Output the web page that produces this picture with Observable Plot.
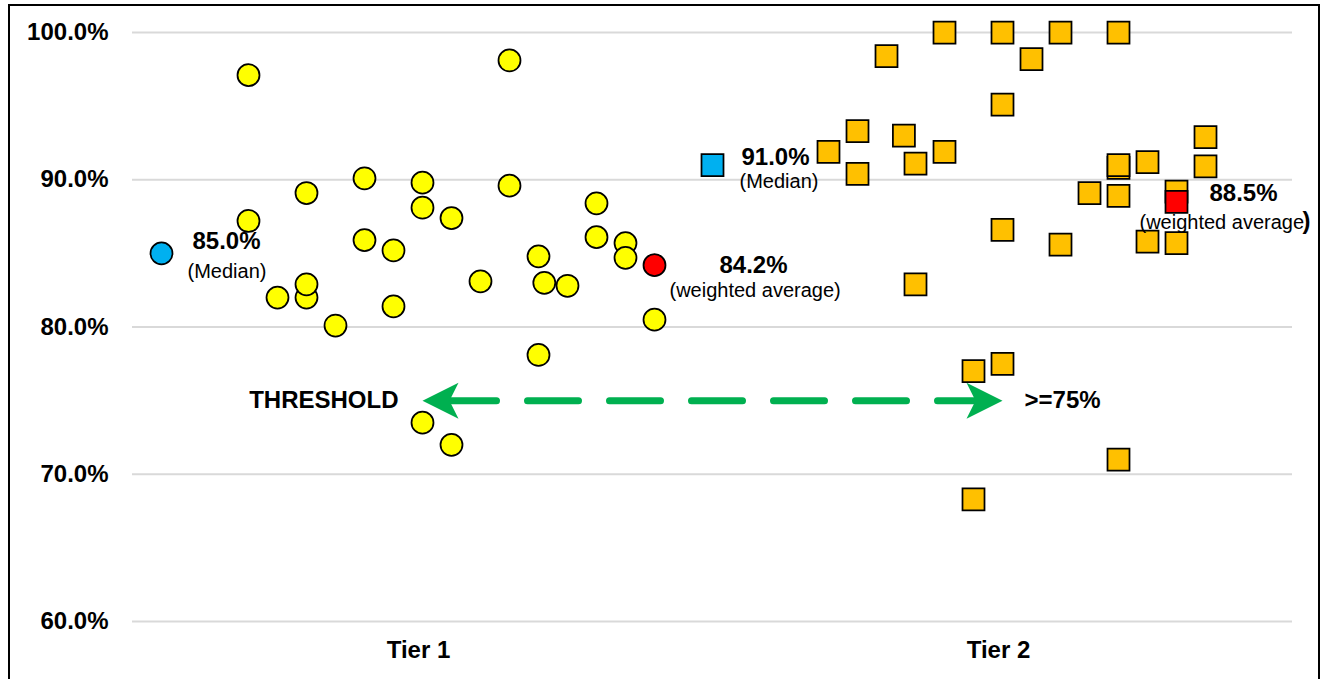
<!DOCTYPE html>
<html>
<head>
<meta charset="utf-8">
<script src="https://cdn.jsdelivr.net/npm/d3@7"></script>
<script src="https://cdn.jsdelivr.net/npm/@observablehq/plot@0.6"></script>
<style>
  body { margin: 0; background: #fff; }
  #chart { position: relative; width: 1322px; height: 679px; overflow: hidden; background: #fff; }
  #chart svg { position: absolute; left: 0; top: 0; }
  #chart .border { position: absolute; left: 8px; top: 4px; width: 1308px; height: 720px; border: 2px solid #000; pointer-events: none; }
</style>
</head>
<body>
<div id="chart"><div class="border"></div></div>
<script>
// Category positions along the x scale and their labels
const tierPositions = [10, 30];
const tierLabels = ["Tier 1", "Tier 2"];
const yTicks = [60, 70, 80, 90, 100];

// Tier 1 individual results (percent)
const tier1Pos = [4, 4, 5, 6, 6, 6, 7, 8, 8, 9, 9, 10, 10, 10, 11, 11, 12, 13, 13, 14, 14, 14.2, 15, 16, 16, 17, 17, 18];
const tier1Val = [97.1, 87.2, 82.0, 89.1, 82.0, 82.9, 80.1, 90.1, 85.9, 85.2, 81.4, 89.8, 88.1, 73.5, 87.4, 72.0, 83.1, 98.1, 89.6, 84.8, 78.1, 83.0, 82.8, 88.4, 86.1, 85.7, 84.7, 80.5];

// Tier 2 individual results (percent)
const tier2Pos = [24, 25, 25, 26, 26.6, 27, 27, 28, 28, 29, 29, 30, 30, 30, 30, 31, 32, 32, 33, 34, 34, 34, 34, 34, 35, 35, 36, 36, 37, 37];
const tier2Val = [91.9, 93.3, 90.4, 98.4, 93.0, 91.1, 82.9, 100.0, 91.9, 77.0, 68.3, 100.0, 95.1, 86.6, 77.5, 98.2, 100.0, 85.6, 89.1, 100.0, 90.8, 91.0, 88.9, 71.0, 91.2, 85.8, 89.2, 85.7, 92.9, 90.9];

// Summary statistics per tier
const summaryKind = ["Median", "weighted average", "Median", "weighted average"];
const summaryPos = [1, 18, 20, 36];
const summaryVal = [85.0, 84.2, 91.0, 88.5];

// Threshold band
const threshold = 75;
const thresholdSpan = [10, 30];
const thresholdLabel = "THRESHOLD";

const pct = v => `${v.toFixed(1)}%`;
const toRows = (xs, vs) => xs.map((x, i) => ({x, v: vs[i]}));
const t1 = toRows(tier1Pos, tier1Val);
const t2 = toRows(tier2Pos, tier2Val);
const summary = summaryPos.map((x, i) => ({x, v: summaryVal[i], kind: summaryKind[i]}));
const [med1, avg1, med2, avg2] = summary;

// Filled "stealth" arrowhead, tip at the origin pointing towards +x
const stealth = {
  draw(ctx) {
    ctx.moveTo(0, 0);
    ctx.lineTo(-36, -18);
    ctx.lineTo(-27, 0);
    ctx.lineTo(-36, 18);
    ctx.closePath();
  }
};

const squareR = 22 / Math.sqrt(Math.PI);
const bold = {fontSize: 24, fontWeight: "bold", fill: "#000"};
const regular = {fontSize: 20, fill: "#000"};
const marker = {x: "x", y: "v", stroke: "#000", strokeWidth: 1.75};

const chart = Plot.plot({
  width: 1322,
  height: 679,
  marginLeft: 132,
  marginRight: 30,
  marginTop: 32,
  marginBottom: 58,
  style: {fontFamily: "'Liberation Sans', Arial, sans-serif", background: "transparent", overflow: "visible"},
  x: {domain: [0, 40]},
  y: {domain: [60, 100]},
  marks: [
    Plot.gridY(yTicks, {stroke: "#d9d9d9", strokeOpacity: 1, strokeWidth: 2}),
    Plot.axisY(yTicks, {tickSize: 0, tickPadding: 24, tickFormat: pct, label: null, ...bold}),
    Plot.axisX(tierPositions, {
      tickSize: 0, tickPadding: 19, label: null, dx: -4,
      tickFormat: d => tierLabels[tierPositions.indexOf(d)], ...bold
    }),

    // threshold arrow
    Plot.ruleY([threshold], {
      x1: thresholdSpan[0], x2: thresholdSpan[1],
      stroke: "#00B050", strokeWidth: 7, strokeLinecap: "round",
      strokeDasharray: "51,31", strokeDashoffset: 58.5
    }),
    Plot.dot(thresholdSpan, {
      x: d => d, y: () => threshold, symbol: stealth, r: 10,
      rotate: (d, i) => (i === 0 ? 180 : 0), fill: "#00B050", stroke: "none"
    }),
    Plot.text([thresholdSpan[0]], {x: d => d, y: () => threshold, text: () => thresholdLabel, dx: -24, textAnchor: "end", ...bold}),
    Plot.text([thresholdSpan[1]], {x: d => d, y: () => threshold, text: () => `>=${threshold}%`, dx: 22, textAnchor: "start", ...bold}),

    // Tier 1 points
    Plot.dot(t1, {...marker, r: 11, fill: "#FFFF00"}),
    Plot.dot([med1], {...marker, r: 11, fill: "#00B0F0"}),
    Plot.dot([avg1], {...marker, r: 11, fill: "#FF0000"}),

    // Tier 2 points
    Plot.dot(t2, {...marker, symbol: "square", r: squareR, fill: "#FFC000"}),
    Plot.dot([med2], {...marker, symbol: "square", r: squareR, fill: "#00B0F0"}),
    Plot.dot([avg2], {...marker, symbol: "square", r: squareR, fill: "#FF0000"}),

    // summary labels
    Plot.text([med1], {x: "x", y: "v", text: d => pct(d.v), dx: 31, dy: -12, textAnchor: "start", ...bold}),
    Plot.text([med1], {x: "x", y: "v", text: d => `(${d.kind})`, dx: 26, dy: 18, textAnchor: "start", ...regular}),
    Plot.text([avg1], {x: "x", y: "v", text: d => pct(d.v), dx: 65, dy: 0, textAnchor: "start", ...bold}),
    Plot.text([avg1], {x: "x", y: "v", text: d => `(${d.kind})`, dx: 15, dy: 25, textAnchor: "start", ...regular}),
    Plot.text([med2], {x: "x", y: "v", text: d => pct(d.v), dx: 29, dy: -8, textAnchor: "start", ...bold}),
    Plot.text([med2], {x: "x", y: "v", text: d => `(${d.kind})`, dx: 27, dy: 17, textAnchor: "start", ...regular}),
    Plot.text([avg2], {x: "x", y: "v", text: d => pct(d.v), dx: 33, dy: -9, textAnchor: "start", ...bold}),
    Plot.text([avg2], {x: "x", y: "v", text: d => `(${d.kind}`, dx: -37, dy: 21, textAnchor: "start", ...regular}),
    Plot.text([avg2], {x: "x", y: "v", text: () => ")", dx: 126, dy: 19, textAnchor: "start", ...bold})
  ]
});

const host = document.getElementById("chart");
host.insertBefore(chart, host.firstChild);
</script>
</body>
</html>
